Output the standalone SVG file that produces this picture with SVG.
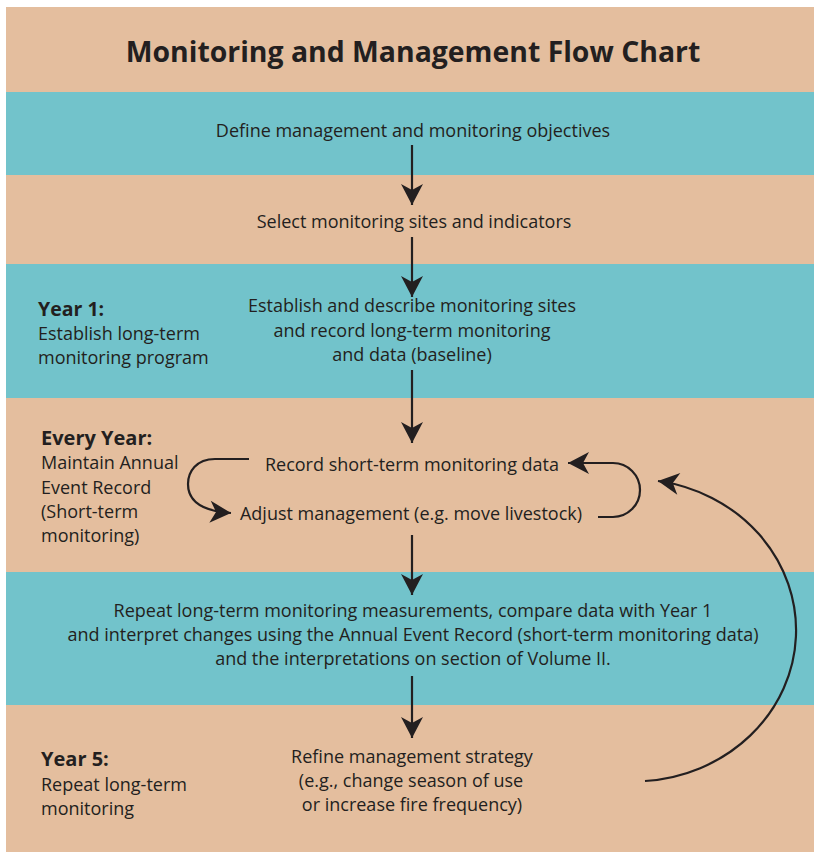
<svg xmlns="http://www.w3.org/2000/svg" width="814" height="852" viewBox="0 0 814 852">
<defs>
<style>
.tan{fill:#E4BE9E}
.teal{fill:#72C3CB}
text{font-family:"Open Sans","Liberation Sans",sans-serif;font-size:18px;fill:#231F20}
.c{text-anchor:middle}
.b{font-weight:bold;font-size:20px}
.title{font-size:28.4px;font-weight:bold}
.conn{fill:none;stroke:#231F20;stroke-width:2.2}
</style>
<marker id="ah" markerUnits="userSpaceOnUse" markerWidth="24" markerHeight="24" viewBox="-22 -12 24 24" refX="0" refY="0" orient="auto">
<path d="M0,0 L-21,-11 L-15,0 L-21,11 Z" fill="#231F20"/>
</marker>
</defs>
<rect x="6" y="7" width="808" height="845" class="tan"/>
<rect x="6" y="92" width="808" height="83" class="teal"/>
<rect x="6" y="264" width="808" height="134" class="teal"/>
<rect x="6" y="572" width="808" height="133" class="teal"/>

<g id="title"><text x="413" y="62" class="c title">Monitoring and Management Flow Chart</text></g>

<g id="n1"><text x="413" y="137" class="c">Define management and monitoring objectives</text></g>
<g id="n2"><text x="414" y="228" class="c">Select monitoring sites and indicators</text></g>
<g id="year1">
<text x="38" y="316" class="b" style="font-size:19.5px">Year 1:</text>
<text x="38" y="340">Establish long-term</text>
<text x="38" y="364">monitoring program</text>
</g>
<g id="n3">
<text x="412" y="312" class="c">Establish and describe monitoring sites</text>
<text x="412" y="337" class="c">and record long-term monitoring</text>
<text x="412" y="361" class="c">and data (baseline)</text>
</g>
<g id="everyyear">
<text x="41" y="445" class="b">Every Year:</text>
<text x="41" y="469">Maintain Annual</text>
<text x="41" y="494">Event Record</text>
<text x="41" y="518">(Short-term</text>
<text x="41" y="542">monitoring)</text>
</g>
<g id="n4"><text x="412" y="471" class="c">Record short-term monitoring data</text></g>
<g id="n5"><text x="411" y="520" class="c">Adjust management (e.g. move livestock)</text></g>
<g id="n6">
<text x="413" y="617" class="c">Repeat long-term monitoring measurements, compare data with Year 1</text>
<text x="413" y="641" class="c">and interpret changes using the Annual Event Record (short-term monitoring data)</text>
<text x="413" y="665" class="c">and the interpretations on section of Volume II.</text>
</g>
<g id="year5">
<text x="41" y="766" class="b">Year 5:</text>
<text x="41" y="791">Repeat long-term</text>
<text x="41" y="815">monitoring</text>
</g>
<g id="n7">
<text x="412" y="763" class="c">Refine management strategy</text>
<text x="411" y="787" class="c">(e.g., change season of use</text>
<text x="412" y="811" class="c">or increase fire frequency)</text>
</g>

<g id="connectors">
<path class="conn" d="M412,145 V205" marker-end="url(#ah)"/>
<path class="conn" d="M412,237 V297" marker-end="url(#ah)"/>
<path class="conn" d="M412,370 V443" marker-end="url(#ah)"/>
<path class="conn" d="M412,535 V595" marker-end="url(#ah)"/>
<path class="conn" d="M412,676 V738" marker-end="url(#ah)"/>
<path class="conn" d="M249,459 H215 C196,459 188,472 188,484 C188,500 200,511 231,513" marker-end="url(#ah)"/>
<path class="conn" d="M598,517 H613 A27,27 0 0 0 613,463 H568" marker-end="url(#ah)"/>
<path class="conn" d="M645,781 A162,151 0 0 0 658,481" marker-end="url(#ah)"/>
</g>
</svg>
